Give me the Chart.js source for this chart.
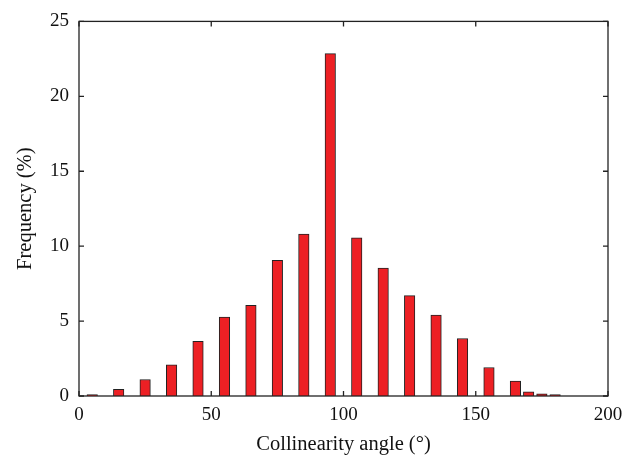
<!DOCTYPE html>
<html>
<head>
<meta charset="utf-8">
<script src="https://cdn.jsdelivr.net/npm/chart.js@4.4.1/dist/chart.umd.min.js"></script>
<style>
  html, body { margin: 0; padding: 0; background: #fff; }
  #wrap { width: 641px; height: 461px; }
</style>
</head>
<body>
<div id="wrap"><canvas id="histogram"></canvas></div>
<script>
// bin centres (deg) and frequency (%)
var angles = [5, 15, 25, 35, 45, 55, 65, 75, 85, 95, 105, 115, 125, 135, 145, 155, 165, 170, 175, 180];
var frequency = [0.1, 0.45, 1.1, 2.08, 3.65, 5.27, 6.05, 9.05, 10.8, 22.85, 10.55, 8.53, 6.7, 5.4, 3.84, 1.9, 1.0, 0.28, 0.15, 0.1];
var xTicks = [0, 50, 100, 150, 200];
var yTicks = [0, 5, 10, 15, 20, 25];

var points = [];
for (var i = 0; i < angles.length; i++) {
    points.push({ x: angles[i], y: frequency[i] });
}

var serif = "'Liberation Serif', 'DejaVu Serif', serif";

// box round the plot plus the small inward ticks on every side
var frame = {
    id: 'frame',
    afterDraw: function(chart) {
        var ctx = chart.ctx;
        var a = chart.chartArea;
        var xs = chart.scales.x, ys = chart.scales.y;
        var len = 5;
        ctx.save();
        ctx.strokeStyle = '#222';
        ctx.lineWidth = 1.3;
        ctx.strokeRect(a.left, a.top, a.right - a.left, a.bottom - a.top);
        ctx.beginPath();
        xTicks.forEach(function(v) {
            var px = xs.getPixelForValue(v);
            ctx.moveTo(px, a.bottom); ctx.lineTo(px, a.bottom - len);
            ctx.moveTo(px, a.top); ctx.lineTo(px, a.top + len);
        });
        yTicks.forEach(function(v) {
            var py = ys.getPixelForValue(v);
            ctx.moveTo(a.left, py); ctx.lineTo(a.left + len, py);
            ctx.moveTo(a.right, py); ctx.lineTo(a.right - len, py);
        });
        ctx.stroke();
        ctx.restore();
    }
};

new Chart(document.getElementById('histogram'), {
    type: 'bar',
    data: {
        datasets: [{
            label: 'Frequency',
            data: points,
            backgroundColor: 'rgb(237,32,36)',
            borderColor: '#222',
            borderWidth: 1,
            barThickness: 10.5
        }]
    },
    options: {
        responsive: true,
        maintainAspectRatio: false,
        animation: false,
        layout: { padding: { top: 12, right: 33, bottom: 0, left: 0 } },
        plugins: { legend: { display: false }, tooltip: { enabled: false } },
        scales: {
            x: {
                type: 'linear',
                offset: false,
                min: 0, max: 200,
                grid: { display: false, drawTicks: false, offset: false },
                border: { display: false },
                afterBuildTicks: function(s) { s.ticks = xTicks.map(function(v) { return { value: v }; }); },
                afterFit: function(s) { s.height = 65; },
                ticks: { color: '#111', padding: 8, font: { family: serif, size: 19 } },
                title: {
                    display: true, text: 'Collinearity angle (°)', color: '#111',
                    padding: { top: 0, bottom: 4 }, font: { family: serif, size: 20.5 }
                }
            },
            y: {
                min: 0, max: 25,
                grid: { display: false, drawTicks: false },
                border: { display: false },
                afterBuildTicks: function(s) { s.ticks = yTicks.map(function(v) { return { value: v }; }); },
                afterFit: function(s) { s.width = 79; },
                ticks: { color: '#111', padding: 10, font: { family: serif, size: 19 } },
                title: {
                    display: true, text: 'Frequency (%)', color: '#111',
                    padding: { top: 13, bottom: 0 }, font: { family: serif, size: 20.5 }
                }
            }
        }
    },
    plugins: [frame]
});
</script>
</body>
</html>
